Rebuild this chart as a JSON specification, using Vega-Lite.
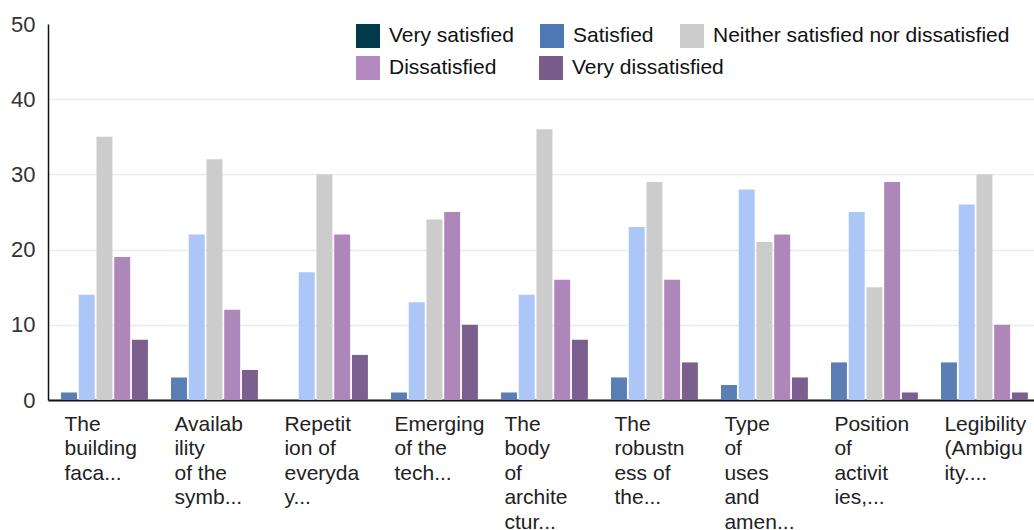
{
  "$schema": "https://vega.github.io/schema/vega-lite/v6.json",
  "width": 986,
  "height": 376,
  "autosize": "none",
  "padding": {"left": 48, "top": 24, "right": 0, "bottom": 130},
  "background": "white",
  "config": {
    "view": {"stroke": null},
    "font": "Liberation Sans",
    "axis": {"labelFont": "Liberation Sans", "labelColor": "#222222"},
    "legend": {"labelFont": "Liberation Sans"}
  },
  "data": {
    "values": [
      {"item": "The|building|faca...", "level": "Very satisfied", "count": 1},
      {"item": "The|building|faca...", "level": "Satisfied", "count": 14},
      {"item": "The|building|faca...", "level": "Neither satisfied nor dissatisfied", "count": 35},
      {"item": "The|building|faca...", "level": "Dissatisfied", "count": 19},
      {"item": "The|building|faca...", "level": "Very dissatisfied", "count": 8},
      {"item": "Availab|ility|of the|symb...", "level": "Very satisfied", "count": 3},
      {"item": "Availab|ility|of the|symb...", "level": "Satisfied", "count": 22},
      {"item": "Availab|ility|of the|symb...", "level": "Neither satisfied nor dissatisfied", "count": 32},
      {"item": "Availab|ility|of the|symb...", "level": "Dissatisfied", "count": 12},
      {"item": "Availab|ility|of the|symb...", "level": "Very dissatisfied", "count": 4},
      {"item": "Repetit|ion of|everyda|y...", "level": "Very satisfied", "count": 0},
      {"item": "Repetit|ion of|everyda|y...", "level": "Satisfied", "count": 17},
      {"item": "Repetit|ion of|everyda|y...", "level": "Neither satisfied nor dissatisfied", "count": 30},
      {"item": "Repetit|ion of|everyda|y...", "level": "Dissatisfied", "count": 22},
      {"item": "Repetit|ion of|everyda|y...", "level": "Very dissatisfied", "count": 6},
      {"item": "Emerging|of the|tech...", "level": "Very satisfied", "count": 1},
      {"item": "Emerging|of the|tech...", "level": "Satisfied", "count": 13},
      {"item": "Emerging|of the|tech...", "level": "Neither satisfied nor dissatisfied", "count": 24},
      {"item": "Emerging|of the|tech...", "level": "Dissatisfied", "count": 25},
      {"item": "Emerging|of the|tech...", "level": "Very dissatisfied", "count": 10},
      {"item": "The|body|of|archite|ctur...", "level": "Very satisfied", "count": 1},
      {"item": "The|body|of|archite|ctur...", "level": "Satisfied", "count": 14},
      {"item": "The|body|of|archite|ctur...", "level": "Neither satisfied nor dissatisfied", "count": 36},
      {"item": "The|body|of|archite|ctur...", "level": "Dissatisfied", "count": 16},
      {"item": "The|body|of|archite|ctur...", "level": "Very dissatisfied", "count": 8},
      {"item": "The|robustn|ess of|the...", "level": "Very satisfied", "count": 3},
      {"item": "The|robustn|ess of|the...", "level": "Satisfied", "count": 23},
      {"item": "The|robustn|ess of|the...", "level": "Neither satisfied nor dissatisfied", "count": 29},
      {"item": "The|robustn|ess of|the...", "level": "Dissatisfied", "count": 16},
      {"item": "The|robustn|ess of|the...", "level": "Very dissatisfied", "count": 5},
      {"item": "Type|of|uses|and|amen...", "level": "Very satisfied", "count": 2},
      {"item": "Type|of|uses|and|amen...", "level": "Satisfied", "count": 28},
      {"item": "Type|of|uses|and|amen...", "level": "Neither satisfied nor dissatisfied", "count": 21},
      {"item": "Type|of|uses|and|amen...", "level": "Dissatisfied", "count": 22},
      {"item": "Type|of|uses|and|amen...", "level": "Very dissatisfied", "count": 3},
      {"item": "Position|of|activit|ies,...", "level": "Very satisfied", "count": 5},
      {"item": "Position|of|activit|ies,...", "level": "Satisfied", "count": 25},
      {"item": "Position|of|activit|ies,...", "level": "Neither satisfied nor dissatisfied", "count": 15},
      {"item": "Position|of|activit|ies,...", "level": "Dissatisfied", "count": 29},
      {"item": "Position|of|activit|ies,...", "level": "Very dissatisfied", "count": 1},
      {"item": "Legibility|(Ambigu|ity....", "level": "Very satisfied", "count": 5},
      {"item": "Legibility|(Ambigu|ity....", "level": "Satisfied", "count": 26},
      {"item": "Legibility|(Ambigu|ity....", "level": "Neither satisfied nor dissatisfied", "count": 30},
      {"item": "Legibility|(Ambigu|ity....", "level": "Dissatisfied", "count": 10},
      {"item": "Legibility|(Ambigu|ity....", "level": "Very dissatisfied", "count": 1}
    ]
  },
  "encoding": {
    "x": {
      "field": "item",
      "type": "nominal",
      "sort": null,
      "scale": {"paddingInner": 0.21, "paddingOuter": 0.087, "align": 0.68},
      "axis": {
        "title": null,
        "labelAngle": 0,
        "labelAlign": "left",
        "labelBaseline": "top",
        "labelOffset": -40,
        "labelPadding": 13,
        "labelFontSize": 21,
        "labelLineHeight": 24.5,
        "labelExpr": "split(datum.label, '|')",
        "labelLimit": 0,
        "labelBound": false,
        "labelOverlap": false,
        "ticks": false,
        "domainColor": "#111111",
        "domainWidth": 2
      }
    },
    "xOffset": {
      "field": "level",
      "type": "nominal",
      "sort": ["Very satisfied", "Satisfied", "Neither satisfied nor dissatisfied", "Dissatisfied", "Very dissatisfied"],
      "scale": {"paddingInner": 0.1}
    },
    "y": {
      "field": "count",
      "type": "quantitative",
      "scale": {"domain": [0, 50], "nice": false},
      "axis": {
        "title": null,
        "values": [0, 10, 20, 30, 40, 50],
        "ticks": false,
        "labelPadding": 13,
        "labelFontSize": 22,
        "labelColor": "#333333",
        "domainColor": "#111111",
        "domainWidth": 1.5,
        "gridColor": {"condition": {"test": "datum.value === 50", "value": "transparent"}, "value": "#ebebeb"},
        "gridWidth": 1.5
      }
    }
  },
  "layer": [
    {
      "mark": {"type": "bar"},
      "encoding": {
        "color": {
          "field": "level",
          "type": "nominal",
          "sort": ["Very satisfied", "Satisfied", "Neither satisfied nor dissatisfied", "Dissatisfied", "Very dissatisfied"],
          "scale": {
            "range": ["#5b7fb5", "#abc6f7", "#cccccc", "#ad87ba", "#7b5f8e"]
          },
          "legend": null
        }
      }
    },
    {
      "mark": {"type": "square", "opacity": 0},
      "encoding": {
        "fill": {
          "field": "level",
          "type": "nominal",
          "scale": {
            "domain": ["Very satisfied", "Satisfied", "Neither satisfied nor dissatisfied"],
            "range": ["#023a4c", "#4f79b4", "#cccccc"]
          },
          "legend": {
            "title": null,
            "orient": "none",
            "legendX": 308,
            "legendY": 0,
            "direction": "horizontal",
            "columns": 3,
            "columnPadding": 26,
            "symbolType": "square",
            "symbolSize": 576,
            "symbolOpacity": 1,
            "symbolStrokeWidth": 0,
            "labelFontSize": 21,
            "labelColor": "#111111",
            "labelOffset": 9,
            "labelLimit": 0
          }
        }
      }
    },
    {
      "mark": {"type": "square", "opacity": 0},
      "encoding": {
        "fill": {
          "field": "level",
          "type": "nominal",
          "scale": {
            "domain": ["Dissatisfied", "Very dissatisfied"],
            "range": ["#b387c0", "#7a5c8c"]
          },
          "legend": {
            "title": null,
            "orient": "none",
            "legendX": 308,
            "legendY": 32,
            "direction": "horizontal",
            "columns": 2,
            "columnPadding": 42,
            "symbolType": "square",
            "symbolSize": 576,
            "symbolOpacity": 1,
            "symbolStrokeWidth": 0,
            "labelFontSize": 21,
            "labelColor": "#111111",
            "labelOffset": 9,
            "labelLimit": 0
          }
        }
      }
    }
  ],
  "resolve": {"scale": {"fill": "independent"}, "legend": {"fill": "independent"}}
}
